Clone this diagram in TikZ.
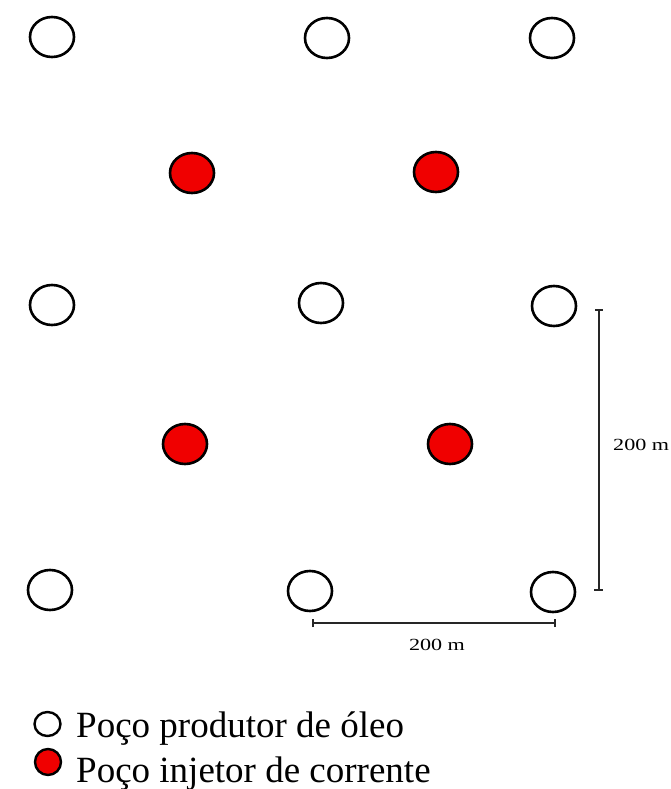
\documentclass[tikz,border=0pt]{standalone}
\usepackage{fontspec}
\setmainfont{Liberation Serif}
\usetikzlibrary{shapes.geometric}
\definecolor{wellred}{RGB}{240,0,0}
\tikzset{
  prod/.style={ellipse, draw=black, line width=2.6pt, fill=white, inner sep=0pt, minimum width=44pt, minimum height=40pt},
  inj/.style={prod, fill=wellred},
  lprod/.style={ellipse, draw=black, line width=2.4pt, fill=white, inner sep=0pt, minimum width=26pt, minimum height=24pt},
  linj/.style={lprod, fill=wellred, minimum height=26pt},
  dimline/.style={line width=1.6pt, black!85},
  dimlabel/.style={inner sep=0pt, font=\fontsize{17}{20}\selectfont},
  legtext/.style={inner sep=0pt, anchor=base west, font=\fontsize{37}{45}\selectfont}
}
\begin{document}
\begin{tikzpicture}[x=1pt, y=-1pt]
\useasboundingbox[fill=white] (0,0) rectangle (670,789);
% producer wells
\node[prod] (p11) at (52,37) {};
\node[prod] (p12) at (327,38) {};
\node[prod] (p13) at (552,38) {};
\node[prod] (p21) at (52,305) {};
\node[prod] (p22) at (321,303) {};
\node[prod] (p23) at (554,306) {};
\node[prod] (p31) at (50,590) {};
\node[prod] (p32) at (310,591) {};
\node[prod] (p33) at (553,592) {};
% injector wells
\node[inj] (i11) at (192,173) {};
\node[inj] (i12) at (436,172) {};
\node[inj] (i21) at (185,444) {};
\node[inj] (i22) at (450,444) {};
% vertical dimension
\coordinate (vt) at (599,310);
\coordinate (vb) at (599,590);
\draw[dimline] (vt) -- (vb);
\draw[dimline] ([xshift=-4pt]vt) -- ([xshift=4pt]vt);
\draw[dimline] ([xshift=-5pt]vb) -- ([xshift=4pt]vb);
\node[dimlabel, anchor=base west] (vlab) at (613,450) {\scalebox{1.3}[1]{200 m}};
% horizontal dimension
\coordinate (hl) at (313,623);
\coordinate (hr) at (555,623);
\draw[dimline] (hl) -- (hr);
\draw[dimline] ([yshift=-4pt]hl) -- ([yshift=4pt]hl);
\draw[dimline] ([yshift=-4pt]hr) -- ([yshift=4pt]hr);
\node[dimlabel, anchor=base] (hlab) at (437,650.5) {\scalebox{1.3}[1]{200 m}};
% legend
\node[lprod] (lp) at (47.5,724) {};
\node[linj] (li) at (48,762) {};
\node[legtext] (lpt) at (76,737) {Poço produtor de óleo};
\node[legtext] (lit) at (76,782) {Poço injetor de corrente};
\end{tikzpicture}
\end{document}
